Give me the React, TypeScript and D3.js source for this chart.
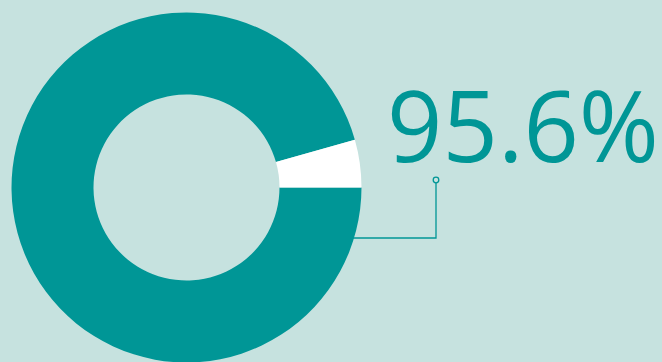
import React from "react";
import * as d3 from "d3";

const categories = ["Yes", "No"];
const values = [95.6, 4.4];
const label = "95.6%";

const W = 662;
const H = 362;
const teal = "#009696";
const bg = "#c6e2df";

export default function App() {
  const cx = 186.5;
  const cy = 187.5;
  const outerR = 175;
  const innerR = 93;
  const pie = d3
    .pie<number>()
    .sort(null)
    .startAngle(Math.PI / 2)
    .endAngle(Math.PI / 2 + 2 * Math.PI);
  const arcs = pie(values);
  const arc = d3.arc<d3.PieArcDatum<number>>().innerRadius(innerR).outerRadius(outerR);
  const colors = d3.scaleOrdinal<string, string>().domain(categories).range([teal, "#ffffff"]);

  const lineY = cy + 50.5;
  const edgeX = cx + Math.sqrt(outerR * outerR - 50.5 * 50.5);
  const px = 436;
  const py = 180;

  return (
    <svg width={W} height={H} style={{ position: "fixed", left: 0, top: 0, background: bg }}>
      <rect width={W} height={H} fill={bg} />
      <g transform={`translate(${cx},${cy})`}>
        {arcs.map((a, i) => (
          <path key={i} d={arc(a) || ""} fill={colors(categories[i])} />
        ))}
      </g>
      <path
        d={`M${edgeX - 2},${lineY}H${px}V${py + 3}`}
        fill="none"
        stroke={teal}
        strokeWidth={1.3}
      />
      <circle cx={px} cy={py} r={2.8} fill={bg} stroke={teal} strokeWidth={1.3} />
      <text
        x={387}
        y={162}
        fill={teal}
        fontFamily="'Open Sans', sans-serif"
        fontWeight={400}
        fontSize={98}
        textLength={272}
        lengthAdjust="spacingAndGlyphs"
      >
        {label}
      </text>
    </svg>
  );
}
